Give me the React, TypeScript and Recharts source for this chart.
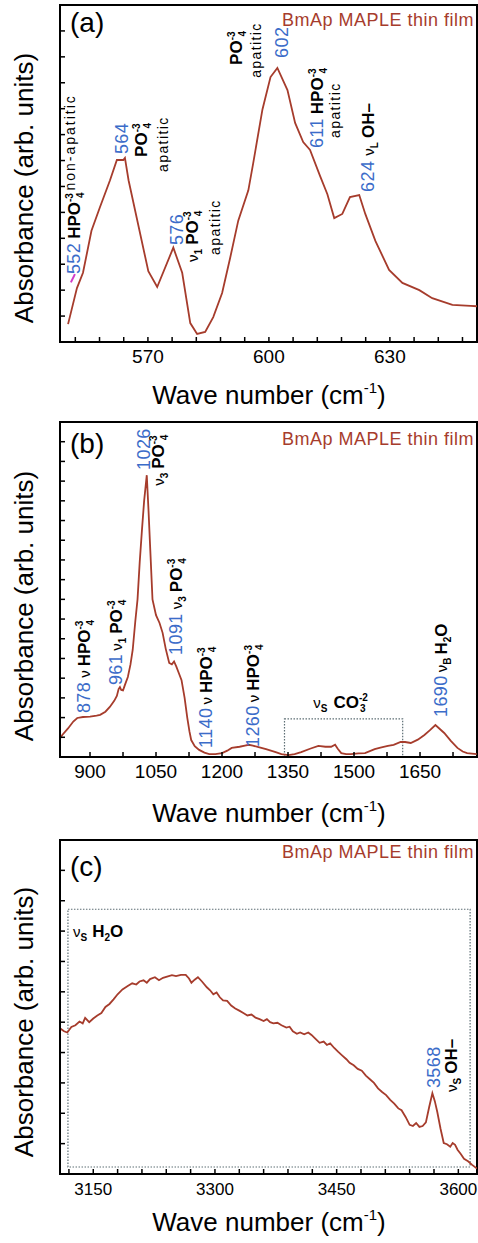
import React from "react";
import { LineChart, Line, XAxis, YAxis, ReferenceArea, ReferenceDot, ReferenceLine } from "recharts";

const FONT = "'Liberation Sans', Arial, Helvetica, sans-serif";
const LINE = "#a63c2c";
const BLUE = "#3b6cc9";
const BOX = "#5d6e74";

// (a) 550–650 cm-1
const waveA = [550.2, 552.4, 553.9, 556.0, 558.1, 560.6, 562.3, 563.9, 564.3, 565.2, 570.1, 572.3, 576.3, 578.5, 580.5, 582.2, 584.2, 586.2, 588.4, 590.4, 592.4, 594.9, 596.1, 598.4, 600.4, 602.1, 604.6, 606.5, 608.5, 610.2, 612.7, 614.5, 616.2, 618.2, 620.1, 622.4, 623.9, 626.4, 629.8, 633.1, 637.3, 640.5, 645.5, 650.0, 651.6];
const absA = [0.69, 2.08, 2.67, 4.29, 5.2, 6.24, 7.02, 7.02, 7.1, 6.24, 2.73, 2.12, 3.64, 2.67, 0.73, 0.31, 0.39, 0.96, 1.89, 3.25, 4.68, 5.85, 6.89, 8.97, 10.22, 10.57, 9.72, 8.45, 7.71, 7.41, 6.4, 5.7, 4.78, 4.94, 5.59, 5.67, 4.94, 3.9, 2.78, 2.28, 2.0, 1.69, 1.43, 1.39, 1.38];

// (b) 830–1780 cm-1
const waveB = [832, 837, 850, 862, 871, 884, 900, 915, 923, 935, 945, 955, 961, 965, 968, 971, 975, 980, 986, 992, 997, 1003, 1008, 1013, 1018, 1023, 1029, 1033, 1037, 1042, 1050, 1058, 1065, 1072, 1080, 1086, 1091, 1096, 1102, 1108, 1115, 1121, 1126, 1130, 1138, 1148, 1160, 1171, 1185, 1200, 1212, 1222, 1240, 1252, 1261, 1270, 1283, 1300, 1322, 1335, 1351, 1365, 1380, 1400, 1419, 1435, 1448, 1457, 1463, 1471, 1482, 1493, 1510, 1525, 1547, 1560, 1577, 1590, 1606, 1616, 1629, 1645, 1660, 1672, 1685, 1695, 1705, 1720, 1735, 1747, 1757, 1779];
const absB = [0.95, 1.12, 1.45, 1.8, 1.98, 2.03, 2.05, 2.1, 2.14, 2.3, 2.54, 2.85, 3.1, 3.45, 3.55, 3.4, 3.38, 3.7, 4.06, 4.7, 5.43, 6.9, 8.0, 9.9, 11.5, 13.0, 14.3, 12.5, 10.5, 8.0, 7.2, 6.8, 6.3, 5.5, 4.77, 4.7, 4.85, 4.6, 4.25, 3.9, 3.0, 2.0, 1.3, 0.86, 0.55, 0.36, 0.22, 0.15, 0.15, 0.2, 0.32, 0.46, 0.52, 0.58, 0.62, 0.58, 0.5, 0.4, 0.25, 0.15, 0.1, 0.15, 0.25, 0.42, 0.56, 0.52, 0.52, 0.62, 0.42, 0.2, 0.15, 0.15, 0.18, 0.2, 0.4, 0.48, 0.56, 0.62, 0.76, 0.76, 0.71, 0.88, 1.12, 1.35, 1.62, 1.42, 1.22, 0.82, 0.46, 0.28, 0.2, 0.15];

// (c) 3110–3620 cm-1
const waveC = [3109, 3114, 3118, 3123, 3128, 3133, 3137, 3140, 3145, 3150, 3155, 3160, 3165, 3170, 3175, 3180, 3186, 3192, 3198, 3203, 3207, 3212, 3216, 3220, 3226, 3231, 3236, 3241, 3247, 3252, 3258, 3264, 3268, 3271, 3275, 3279, 3284, 3290, 3294, 3298, 3302, 3306, 3310, 3315, 3320, 3325, 3330, 3335, 3340, 3345, 3350, 3355, 3360, 3364, 3368, 3372, 3377, 3382, 3388, 3392, 3396, 3401, 3405, 3410, 3415, 3419, 3424, 3429, 3434, 3438, 3442, 3447, 3452, 3457, 3462, 3466, 3471, 3476, 3481, 3486, 3491, 3496, 3501, 3506, 3511, 3516, 3521, 3526, 3530, 3535, 3540, 3544, 3548, 3552, 3556, 3560, 3564, 3568, 3571, 3574, 3578, 3582, 3586, 3590, 3593, 3596, 3599, 3603, 3607, 3612, 3617, 3623];
const absC = [4.8, 4.7, 4.66, 4.84, 4.9, 5.02, 4.96, 5.14, 5.0, 5.12, 5.22, 5.3, 5.5, 5.6, 5.75, 5.92, 6.08, 6.18, 6.28, 6.24, 6.34, 6.38, 6.3, 6.42, 6.48, 6.38, 6.46, 6.5, 6.55, 6.52, 6.56, 6.56, 6.44, 6.3, 6.4, 6.48, 6.34, 6.15, 6.05, 5.92, 5.98, 5.82, 5.72, 5.7, 5.55, 5.45, 5.38, 5.3, 5.22, 5.25, 5.15, 5.1, 5.04, 5.1, 5.0, 4.96, 4.98, 4.9, 4.82, 4.85, 4.7, 4.62, 4.66, 4.6, 4.66, 4.58, 4.45, 4.32, 4.36, 4.25, 4.3, 4.15, 4.02, 3.9, 3.78, 3.66, 3.58, 3.46, 3.4, 3.24, 3.12, 3.0, 2.82, 2.7, 2.6, 2.44, 2.32, 2.16, 2.1, 1.88, 1.62, 1.58, 1.68, 1.55, 1.58, 1.7, 2.2, 2.66, 2.4, 2.05, 1.5, 1.02, 0.98, 0.9, 1.02, 0.96, 0.8, 0.66, 0.5, 0.42, 0.3, 0.18];

const ticksXA = [552, 558, 564, 570, 576, 582, 588, 594, 600, 606, 612, 618, 624, 630, 636, 642, 648];
const labelsXA = [570, 600, 630];
const ticksYA = [1, 2, 3, 4, 5, 6, 7, 8, 9, 10, 11, 12];

const ticksXB = [900, 975, 1050, 1125, 1200, 1275, 1350, 1425, 1500, 1575, 1650, 1725];
const labelsXB = [900, 1050, 1200, 1350, 1500, 1650];
const ticksYB = [1, 2, 3, 4, 5, 6, 7, 8, 9, 10, 11, 12, 13, 14, 15, 16];

const ticksXC = [3120, 3150, 3180, 3210, 3240, 3270, 3300, 3330, 3360, 3390, 3420, 3450, 3480, 3510, 3540, 3570, 3600];
const labelsXC = [3150, 3300, 3450, 3600];
const ticksYC = [1, 2, 3, 4, 5, 6, 7, 8, 9, 10];

type Part = [string, string, number?];
type Anno = { x: number; y: number; parts: Part[]; flat?: boolean };

const PO4: Part[] = [["b", "PO", 4], ["sp", "-3"], ["sb", "4", -5]];
const HPO4: Part[] = [["b", "HPO", 4], ["sp", "-3"], ["sb", "4", -5]];

const annoA: Anno[] = [
  { x: 553.2, y: 2.62, parts: [["n", "552"], ...HPO4, ["rs", "non-apatitic", 2]] },
  { x: 565.1, y: 7.25, parts: [["n", "564"]] },
  { x: 569.8, y: 7.14, parts: [["b", "PO"], ["sp", "-3"], ["sb", "4", -5]] },
  { x: 575.0, y: 6.56, parts: [["r", "apatitic"]] },
  { x: 578.7, y: 3.74, parts: [["n", "576"]] },
  { x: 582.4, y: 3.09, parts: [["v", "ν"], ["sb", "1"], ...PO4] },
  { x: 587.9, y: 3.36, parts: [["r", "apatitic"]] },
  { x: 604.8, y: 10.96, parts: [["n", "602"]] },
  { x: 593.4, y: 10.69, parts: [["b", "PO"], ["sp", "-3"], ["sb", "4", -5]] },
  { x: 598.1, y: 10.19, parts: [["r", "apatitic"]] },
  { x: 613.5, y: 7.48, parts: [["n", "611"], ...HPO4] },
  { x: 617.7, y: 7.87, parts: [["r", "apatitic"]] },
  { x: 626.1, y: 5.79, parts: [["n", "624"], ["v", "ν", 5], ["sb", "L"], ["b", "OH–", 4]] },
];

const annoB: Anno[] = [
  { x: 1035.3, y: 14.57, parts: [["n", "1026"]] },
  { x: 1069.2, y: 13.76, parts: [["v", "ν"], ["sb", "3"], ...PO4] },
  { x: 1109.8, y: 5.18, parts: [["n", "1091"], ["v", "ν", 4], ["sb", "3"], ...PO4] },
  { x: 972.2, y: 3.65, parts: [["n", "961"], ["v", "ν", 3], ["sb", "1"], ...PO4] },
  { x: 900, y: 2.23, parts: [["n", "878"], ["v", "ν", 4], ...HPO4] },
  { x: 1177.5, y: 0.46, parts: [["n", "1140"], ["v", "ν", 3], ...HPO4] },
  { x: 1283.5, y: 0.51, parts: [["n", "1260"], ["v", "ν", 3], ...HPO4] },
  { x: 1712, y: 2.03, parts: [["n", "1690"], ["v", "ν", 3], ["sb", "B"], ["b", "H", 3], ["sb", "2"], ["b", "O"]] },
  { x: 1407.6, y: 2.49, flat: true, parts: [["v", "ν"], ["sb", "S"], ["B", "CO", 6], ["sp", "-2"], ["sb", "3", -8]] },
];

const annoC: Anno[] = [
  { x: 3577.5, y: 2.83, parts: [["n", "3568"]] },
  { x: 3598.4, y: 2.7, parts: [["v", "ν"], ["sb", "S"], ["b", "OH–", 4]] },
  { x: 3125, y: 7.81, flat: true, parts: [["v", "ν"], ["sb", "S"], ["B", "H", 5], ["sb", "2"], ["B", "O"]] },
];

const PART_STYLE: Record<string, { size: number; weight: number; fill: string; shift: number; ls?: number }> = {
  n: { size: 18, weight: 400, fill: BLUE, shift: 0, ls: 0.4 },
  b: { size: 17, weight: 700, fill: "#000", shift: 0 },
  B: { size: 17, weight: 700, fill: "#000", shift: 0 },
  r: { size: 14, weight: 400, fill: "#000", shift: 0, ls: 1.4 },
  rs: { size: 14, weight: 400, fill: "#000", shift: -5, ls: 2 },
  v: { size: 15, weight: 400, fill: "#000", shift: 0 },
  sb: { size: 10, weight: 700, fill: "#000", shift: 4 },
  sp: { size: 10, weight: 700, fill: "#000", shift: -7 },
};

function AnnoText({ cx, cy, parts, flat }: any) {
  let base = 0;
  return (
    <text transform={`translate(${cx},${cy})${flat ? "" : " rotate(-90)"}`} fontFamily={FONT}>
      {parts.map(([k, t, dx]: Part, i: number) => {
        const s = PART_STYLE[k];
        const dy = s.shift - base;
        base = s.shift;
        return (
          <tspan key={i} dx={dx ?? 0} dy={dy} fontSize={s.size} fontWeight={s.weight} fill={s.fill} letterSpacing={s.ls ?? 0}>
            {t}
          </tspan>
        );
      })}
    </text>
  );
}

// inward tick marks, labels only on the major values
const makeXTick = (labels: number[], size: number) => (props: any) => {
  const { x, y, payload } = props;
  return (
    <g>
      <line x1={x} x2={x} y1={y} y2={y - 5} stroke="#000" strokeWidth={1.5} />
      {labels.includes(payload.value) && (
        <text x={x} y={y + 21} textAnchor="middle" fontSize={size} fontFamily={FONT} fill="#000">
          {payload.value}
        </text>
      )}
    </g>
  );
};

const yTick = (props: any) => {
  const { x, y } = props;
  return <line x1={x} x2={x + 5} y1={y} y2={y} stroke="#000" strokeWidth={1.5} />;
};

interface PanelProps {
  top: number;
  height: number;
  marginTop: number;
  marginBottom: number;
  wave: number[];
  abs: number[];
  xDomain: [number, number];
  yMax: number;
  xTicks: number[];
  xLabels: number[];
  yTicks: number[];
  tickFont: number;
  annos: Anno[];
  letter: string;
  letterY: number;
  filmY: number;
  titleY: number;
  absY: number;
  children?: React.ReactNode;
}

function Panel(p: PanelProps) {
  const data = p.wave.map((x, i) => ({ x, y: p.abs[i] }));
  return (
    <div style={{ position: "absolute", left: 0, top: p.top, width: 478, height: p.height }}>
      <LineChart width={478} height={p.height} data={data} margin={{ top: p.marginTop, right: 1, bottom: p.marginBottom, left: 0 }}>
        <XAxis
          dataKey="x"
          type="number"
          domain={p.xDomain}
          allowDataOverflow
          ticks={p.xTicks}
          interval={0}
          height={30}
          tickSize={0}
          tickMargin={0}
          axisLine={{ stroke: "#000", strokeWidth: 2 }}
          tickLine={false}
          tick={makeXTick(p.xLabels, p.tickFont)}
        />
        <YAxis
          type="number"
          domain={[0, p.yMax]}
          allowDataOverflow
          ticks={p.yTicks}
          interval={0}
          width={60}
          tickSize={0}
          tickMargin={0}
          axisLine={{ stroke: "#000", strokeWidth: 2 }}
          tickLine={false}
          tick={yTick}
        />
        {p.children}
        <Line type="linear" dataKey="y" stroke={LINE} strokeWidth={1.8} dot={false} isAnimationActive={false} />
        <ReferenceArea x1={p.xDomain[0]} x2={p.xDomain[1]} y1={0} y2={p.yMax} fill="none" stroke="#000" strokeWidth={2} ifOverflow="visible" />
        {p.annos.map((a, i) => (
          <ReferenceDot
            key={i}
            x={a.x}
            y={a.y}
            r={0}
            ifOverflow="visible"
            shape={(s: any) => <AnnoText cx={s.cx} cy={s.cy} parts={a.parts} flat={a.flat} />}
          />
        ))}
      </LineChart>
      <svg
        width={478}
        height={p.height}
        style={{ position: "absolute", left: 0, top: 0, pointerEvents: "none", overflow: "visible" }}
        fontFamily={FONT}
      >
        <text transform={`translate(33,${p.absY}) rotate(-90)`} textAnchor="middle" fontSize={26} fill="#000">
          Absorbance (arb. units)
        </text>
        <text x={269} y={p.titleY} textAnchor="middle" fontSize={26} fill="#000">
          Wave number (cm
          <tspan dy={-11} fontSize={15}>
            -1
          </tspan>
          <tspan dy={11}>)</tspan>
        </text>
        <text x={70} y={p.letterY} fontSize={28} fill="#000">
          {p.letter}
        </text>
        <text x={474} y={p.filmY} textAnchor="end" fontSize={18} letterSpacing={0.5} fill={LINE}>
          BmAp MAPLE thin film
        </text>
      </svg>
    </div>
  );
}

export default function App() {
  return (
    <div style={{ position: "absolute", left: 0, top: 0, width: 478, height: 1243, background: "#fff" }}>
      <Panel
        top={0}
        height={410}
        marginTop={5}
        marginBottom={38}
        wave={waveA}
        abs={absA}
        xDomain={[548.2, 651.6]}
        yMax={13}
        xTicks={ticksXA}
        xLabels={labelsXA}
        yTicks={ticksYA}
        tickFont={19}
        annos={annoA}
        letter="(a)"
        letterY={32}
        filmY={26}
        titleY={404}
        absY={188}
      >
        <ReferenceLine
          segment={[{ x: 550.9, y: 2.3 }, { x: 551.9, y: 2.62 }]}
          stroke="#d23cc8"
          strokeWidth={2}
          ifOverflow="visible"
        />
      </Panel>
      <Panel
        top={410}
        height={415}
        marginTop={12}
        marginBottom={38}
        wave={waveB}
        abs={absB}
        xDomain={[831.8, 1779.5]}
        yMax={17}
        xTicks={ticksXB}
        xLabels={labelsXB}
        yTicks={ticksYB}
        tickFont={19}
        annos={annoB}
        letter="(b)"
        letterY={43}
        filmY={35}
        titleY={412}
        absY={196}
      >
        <ReferenceArea x1={1342} x2={1610.6} y1={0} y2={1.93} fill="none" stroke={BOX} strokeWidth={1.2} strokeDasharray="1.5 1.5" />
      </Panel>
      <Panel
        top={825}
        height={418}
        marginTop={15}
        marginBottom={39}
        wave={waveC}
        abs={absC}
        xDomain={[3109, 3623]}
        yMax={11}
        xTicks={ticksXC}
        xLabels={labelsXC}
        yTicks={ticksYC}
        tickFont={17}
        annos={annoC}
        letter="(c)"
        letterY={51}
        filmY={33}
        titleY={406}
        absY={197}
      >
        <ReferenceArea x1={3118.8} x2={3614.5} y1={0.23} y2={8.72} fill="none" stroke={BOX} strokeWidth={1.2} strokeDasharray="1.5 1.5" />
      </Panel>
    </div>
  );
}
